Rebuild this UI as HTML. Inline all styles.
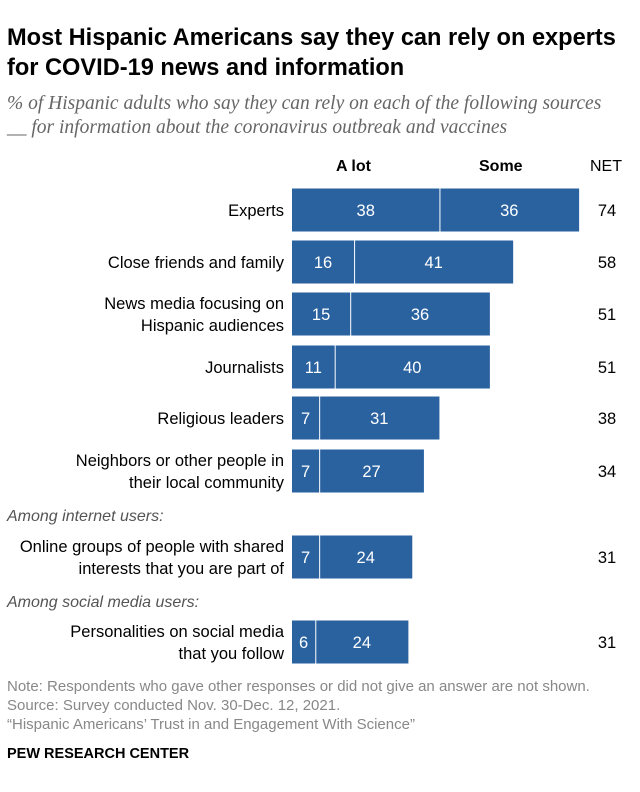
<!DOCTYPE html>
<html><head><meta charset="utf-8"><style>
body{margin:0;background:#fff;font-family:"Liberation Sans",sans-serif;}
#wrap{position:relative;width:640px;height:792px;overflow:hidden;}
.t{position:absolute;white-space:nowrap;}
</style></head><body>
<div id="wrap">
<div class="t" style="left:7px;top:23px;font-size:23.6px;font-weight:bold;line-height:30px;color:#000;">Most Hispanic Americans say they can rely on experts<br>for COVID-19 news and information</div>
<div class="t" style="left:7px;top:92px;font-family:'Liberation Serif',serif;font-style:italic;font-size:19.5px;line-height:24px;color:#666;">% of Hispanic adults who say they can rely on each of the following sources<br>__ for information about the coronavirus outbreak and vaccines</div>
<div class="t" style="left:336px;top:158px;font-size:16px;font-weight:bold;">A lot</div>
<div class="t" style="left:479px;top:158px;font-size:16px;font-weight:bold;">Some</div>
<div class="t" style="left:590px;top:158px;font-size:16px;">NET</div>
<div class="t" style="left:7px;top:508px;font-size:16px;font-style:italic;color:#555;">Among internet users:</div>
<div class="t" style="left:7px;top:594px;font-size:16px;font-style:italic;color:#555;">Among social media users:</div>
<div class="t" style="left:7px;top:677px;font-size:15px;line-height:19px;color:#888;">Note: Respondents who gave other responses or did not give an answer are not shown.<br>Source: Survey conducted Nov. 30-Dec. 12, 2021.<br>“Hispanic Americans’ Trust in and Engagement With Science”</div>
<div class="t" style="left:7px;top:746px;font-size:14.5px;font-weight:bold;">PEW RESEARCH CENTER</div>
<svg id="svg" width="640" height="792" style="position:absolute;left:0;top:0"></svg>
</div>
<script>
const categories=[["Experts"],["Close friends and family"],["News media focusing on","Hispanic audiences"],["Journalists"],["Religious leaders"],["Neighbors or other people in","their local community"],["Online groups of people with shared","interests that you are part of"],["Personalities on social media","that you follow"]];
const aLot=[38,16,15,11,7,7,7,6];
const some=[36,41,36,40,31,27,24,24];
const net=[74,58,51,51,38,34,31,31];
const rowCenters=[210,262,314,367,418,471,557,642];
const x0=292,scale=3.88,bh=43;
const xs=v=>x0+v*scale;
const svg=document.getElementById('svg');
const NS='http://www.w3.org/2000/svg';
function mk(tag,attrs){const e=document.createElementNS(NS,tag);for(const k in attrs)e.setAttribute(k,attrs[k]);svg.appendChild(e);return e;}
categories.forEach((c,i)=>{
 const cy=rowCenters[i];
 const r1=mk('rect',{x:x0,y:cy-bh/2,width:xs(aLot[i])-x0,height:bh,fill:'#2a62a0'});
 
 
 const r2=mk('rect',{x:xs(aLot[i])+1,y:cy-bh/2,width:xs(aLot[i]+some[i])-xs(aLot[i])-1,height:bh,fill:'#2a62a0'});
 
 
 const l1=mk('text',{x:(x0+xs(aLot[i]))/2,y:cy+6,'text-anchor':'middle','font-size':16.5,fill:'#fff','font-family':'Liberation Sans'});
 l1.textContent=aLot[i];
 
 
 const l2=mk('text',{x:(xs(aLot[i])+xs(aLot[i]+some[i]))/2,y:cy+6,'text-anchor':'middle','font-size':16.5,fill:'#fff','font-family':'Liberation Sans'});
 l2.textContent=some[i];
 
 
 const n=mk('text',{x:607,y:cy+6,'text-anchor':'middle','font-size':16.5,fill:'#000','font-family':'Liberation Sans'});
 n.textContent=net[i];
 
 
 c.forEach((line,j)=>{
  const y=cy+6+(j-(c.length-1)/2)*22;
  const t=mk('text',{x:284,y:y,'text-anchor':'end','font-size':16.5,fill:'#000','font-family':'Liberation Sans'});
  t.textContent=line;
  
  
 });
});
</script>
</body></html>
